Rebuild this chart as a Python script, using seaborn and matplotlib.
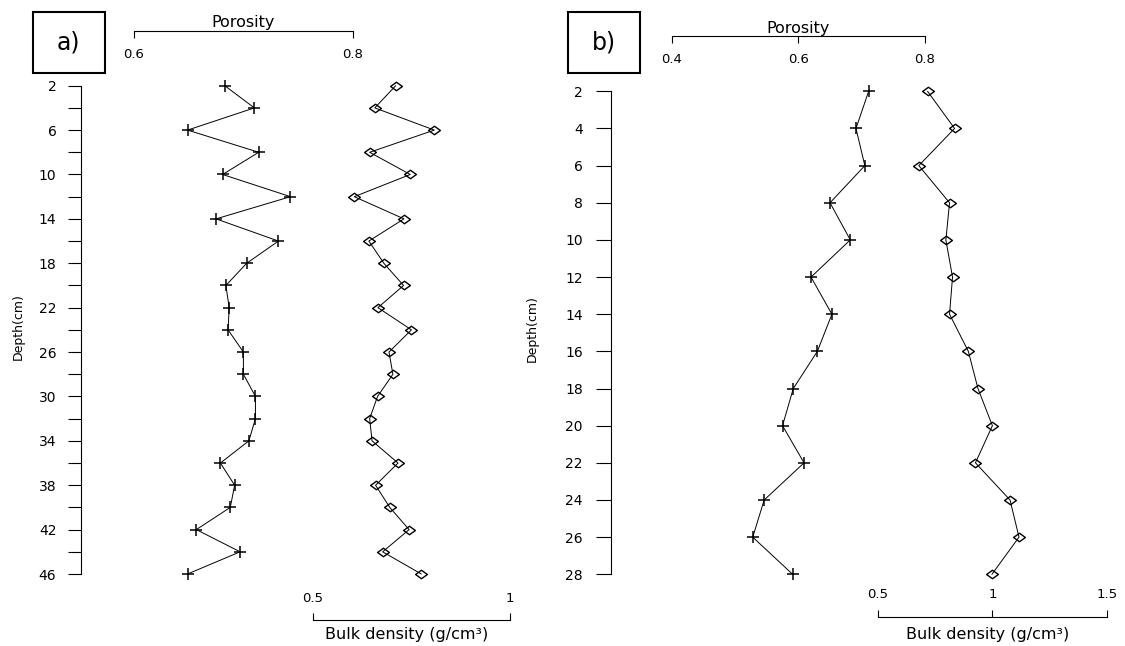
import matplotlib
matplotlib.use("Agg")
import matplotlib.pyplot as plt
import matplotlib.transforms as mtransforms
from matplotlib.path import Path
from matplotlib.patches import Rectangle
from matplotlib.ticker import FixedLocator, FixedFormatter
import seaborn as sns

sns.set_theme(style="white")
plt.rcParams['font.family'] = ['DejaVu Sans']

# ---------------- data ----------------
depth_a = [2, 4, 6, 8, 10, 12, 14, 16, 18, 20, 22, 24, 26, 28, 30, 32, 34, 36, 38, 40, 42, 44, 46]
porosity_a = [0.683, 0.710, 0.649, 0.714, 0.681, 0.743, 0.675, 0.732, 0.703, 0.684, 0.687, 0.686,
              0.700, 0.700, 0.711, 0.711, 0.705, 0.679, 0.692, 0.688, 0.657, 0.697, 0.649]
bulk_a = [0.711, 0.658, 0.809, 0.645, 0.748, 0.606, 0.732, 0.643, 0.681, 0.731, 0.666, 0.751,
          0.694, 0.704, 0.665, 0.645, 0.651, 0.717, 0.660, 0.696, 0.745, 0.678, 0.776]

depth_b = [2, 4, 6, 8, 10, 12, 14, 16, 18, 20, 22, 24, 26, 28]
porosity_b = [0.711, 0.691, 0.705, 0.650, 0.682, 0.620, 0.653, 0.630, 0.592, 0.575, 0.609, 0.546, 0.528, 0.591]
bulk_b = [0.717, 0.835, 0.679, 0.813, 0.797, 0.826, 0.813, 0.895, 0.937, 1.000, 0.926, 1.077, 1.116, 0.998]

por_ticks_a = [0.6, 0.8]
por_labels_a = ["0.6", "0.8"]
bd_ticks_a = [0.5, 1.0]
bd_labels_a = ["0.5", "1"]
depth_major_a = [2, 6, 10, 14, 18, 22, 26, 30, 34, 38, 42, 46]
depth_minor_a = [4, 8, 12, 16, 20, 24, 28, 32, 36, 40, 44]

por_ticks_b = [0.4, 0.6, 0.8]
por_labels_b = ["0.4", "0.6", "0.8"]
bd_ticks_b = [0.5, 1.0, 1.5]
bd_labels_b = ["0.5", "1", "1.5"]
depth_major_b = [2, 4, 6, 8, 10, 12, 14, 16, 18, 20, 22, 24, 26, 28]

W, H = 1125, 646
fig = plt.figure(figsize=(W / 100, H / 100), dpi=100)
PT = 72 / 100  # points per pixel


def lims(p0, p1, va, pa, vb, pb):
    s = (pb - pa) / (vb - va)
    return va + (p0 - pa) / s, va + (p1 - pa) / s


diamond = Path([(-1, 0), (0, 0.72), (1, 0), (0, -0.72), (-1, 0)],
               [Path.MOVETO, Path.LINETO, Path.LINETO, Path.LINETO, Path.CLOSEPOLY])


def panel(box, depth, por, bulk, depth_anchor, por_anchor, bd_anchor,
          top_y, bot_y, por_ticks, por_labels, bd_ticks, bd_labels,
          dmajor, dminor, dlab_x, dlab_y, letter_box, letter, ytick_len, ytick_pad):
    L, T, R, B = box
    ax = fig.add_axes([L / W, 1 - B / H, (R - L) / W, (B - T) / H])
    ax2 = ax.twiny()
    (d0, pd0), (d1, pd1) = depth_anchor
    # pixel y increases downward, depth increases downward -> inverted axis
    ylo, yhi = lims(T, B, d0, pd0, d1, pd1)
    ax.set_ylim(yhi, ylo)
    (v0, px0), (v1, px1) = por_anchor
    ax.set_xlim(*lims(L, R, v0, px0, v1, px1))
    (b0, bx0), (b1, bx1) = bd_anchor
    ax2.set_xlim(*lims(L, R, b0, bx0, b1, bx1))

    sns.lineplot(x=por, y=depth, sort=False, estimator=None, ax=ax, color="black",
                 linewidth=0.7, marker="+", markersize=9, markeredgewidth=1.1,
                 markeredgecolor="black")
    sns.lineplot(x=bulk, y=depth, sort=False, estimator=None, ax=ax2, color="black",
                 linewidth=0.7, marker=diamond, markersize=8.5, markeredgewidth=1.0,
                 markeredgecolor="black", markerfacecolor="none")

    ax.set_facecolor("none")
    ax2.set_facecolor("none")
    ax.grid(False)
    ax2.grid(False)
    for s in ["bottom", "right"]:
        ax.spines[s].set_visible(False)
    for s in ["top", "left", "right"]:
        ax2.spines[s].set_visible(False)

    # left depth axis
    ax.spines["left"].set_bounds(min(depth), max(depth))
    ax.spines["left"].set_color("black")
    ax.spines["left"].set_linewidth(0.8)
    ax.yaxis.set_major_locator(FixedLocator(dmajor))
    ax.yaxis.set_major_formatter(FixedFormatter([str(d) for d in dmajor]))
    ax.yaxis.set_minor_locator(FixedLocator(dminor))
    ax.tick_params(axis="y", which="both", left=True, direction="out", length=ytick_len,
                   width=0.8, color="black", pad=ytick_pad, labelsize=10, labelcolor="black")
    ax.set_ylabel("")

    # top porosity axis
    ax.xaxis.tick_top()
    ax.spines["top"].set_position(("outward", (T - top_y) * PT))
    ax.spines["top"].set_bounds(por_ticks[0], por_ticks[-1])
    ax.spines["top"].set_color("black")
    ax.spines["top"].set_linewidth(0.8)
    ax.xaxis.set_major_locator(FixedLocator(por_ticks))
    ax.xaxis.set_major_formatter(FixedFormatter(por_labels))
    ax.tick_params(axis="x", which="major", top=True, bottom=False, labeltop=True,
                   labelbottom=False, direction="in", length=5, width=0.8, color="black",
                   pad=-21.5, labelsize=9.5, labelcolor="black")
    ax.set_xlabel("")

    # bottom bulk density axis
    ax2.xaxis.tick_bottom()
    ax2.spines["bottom"].set_position(("outward", (bot_y - B) * PT))
    ax2.spines["bottom"].set_bounds(bd_ticks[0], bd_ticks[-1])
    ax2.spines["bottom"].set_color("black")
    ax2.spines["bottom"].set_linewidth(0.8)
    ax2.xaxis.set_major_locator(FixedLocator(bd_ticks))
    ax2.xaxis.set_major_formatter(FixedFormatter(bd_labels))
    ax2.tick_params(axis="x", which="major", top=False, bottom=True, labeltop=False,
                    labelbottom=True, direction="in", length=5, width=0.8, color="black",
                    pad=-20.5, labelsize=9.5, labelcolor="black")
    ax2.set_xlabel("")

    tr1 = mtransforms.blended_transform_factory(ax.transData, fig.transFigure)
    ax.text((por_ticks[0] + por_ticks[-1]) / 2, 1 - (top_y - 8) / H, "Porosity",
            transform=tr1, ha="center", va="center", fontsize=11.5, color="black")
    tr2 = mtransforms.blended_transform_factory(ax2.transData, fig.transFigure)
    ax2.text((bd_ticks[0] + bd_ticks[-1]) / 2 - 0.02 * (bd_ticks[-1] - bd_ticks[0]),
             1 - 635 / H, "Bulk density (g/cm³)", transform=tr2, ha="center", va="center",
             fontsize=11.5, color="black")

    fig.text(dlab_x / W, 1 - dlab_y / H, "Depth(cm)", rotation=90, ha="center",
             va="center", fontsize=9, color="black")

    bx0, by0, bx1, by1 = letter_box
    fig.patches.append(Rectangle((bx0 / W, 1 - by1 / H), (bx1 - bx0) / W, (by1 - by0) / H,
                                 transform=fig.transFigure, fill=False, edgecolor="black",
                                 linewidth=1.5))
    fig.text((bx0 + bx1) / 2 / W, 1 - (by0 + by1) / 2 / H, letter, ha="center", va="center",
             fontsize=17, color="black")


panel(box=(81.4, 78, 540, 582), depth=depth_a, por=porosity_a, bulk=bulk_a,
      depth_anchor=((2, 85.7), (46, 574.0)),
      por_anchor=((0.6, 133.9), (0.8, 352.9)),
      bd_anchor=((0.5, 312.5), (1.0, 509.6)),
      top_y=30.7, bot_y=620, por_ticks=por_ticks_a, por_labels=por_labels_a,
      bd_ticks=bd_ticks_a, bd_labels=bd_labels_a,
      dmajor=depth_major_a, dminor=depth_minor_a, dlab_x=18, dlab_y=327,
      letter_box=(32.7, 12.3, 104.5, 73.3), letter="a)", ytick_len=9.5, ytick_pad=8.5)

panel(box=(610.5, 82, 1120, 582), depth=depth_b, por=porosity_b, bulk=bulk_b,
      depth_anchor=((2, 91.3), (28, 574.3)),
      por_anchor=((0.4, 671.7), (0.8, 925.0)),
      bd_anchor=((0.5, 877.8), (1.5, 1107.0)),
      top_y=36, bot_y=616.7, por_ticks=por_ticks_b, por_labels=por_labels_b,
      bd_ticks=bd_ticks_b, bd_labels=bd_labels_b,
      dmajor=depth_major_b, dminor=[], dlab_x=532.5, dlab_y=329,
      letter_box=(568, 12.3, 640, 73.3), letter="b)", ytick_len=10.5, ytick_pad=9.5)

fig.savefig("out.png", dpi=100, facecolor="white")
